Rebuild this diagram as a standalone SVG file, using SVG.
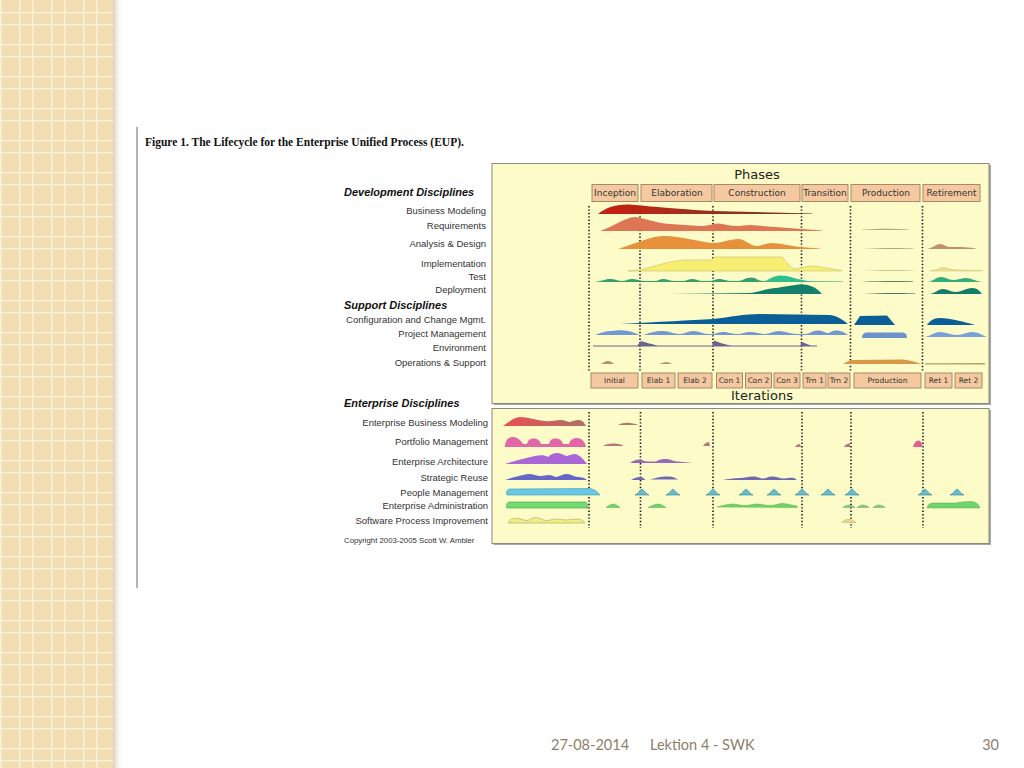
<svg xmlns="http://www.w3.org/2000/svg" width="1024" height="768" viewBox="0 0 1024 768">
<defs>
<pattern id="grid" patternUnits="userSpaceOnUse" x="19" y="12" width="32" height="32">
<rect width="32" height="32" fill="#f2deb2"/>
<rect x="0" y="0" width="1.6" height="32" fill="#faf0d6"/>
<rect x="13" y="0" width="1.6" height="32" fill="#faf0d6"/>
<rect x="0" y="0" width="32" height="1.6" fill="#faf0d6"/>
<rect x="0" y="12" width="32" height="1.6" fill="#faf0d6"/>
</pattern>
<linearGradient id="shadowL" x1="0" y1="0" x2="1" y2="0">
<stop offset="0" stop-color="#c8b89a" stop-opacity="0.7"/>
<stop offset="1" stop-color="#ffffff" stop-opacity="0"/>
</linearGradient>
<linearGradient id="gBM" x1="0" y1="0" x2="1" y2="0">
<stop offset="0" stop-color="#c81e10"/>
<stop offset="0.3" stop-color="#b02a18"/>
<stop offset="1" stop-color="#6a3a28"/>
</linearGradient>
<linearGradient id="gEBM" x1="0" y1="0" x2="1" y2="0">
<stop offset="0" stop-color="#e85050"/>
<stop offset="1" stop-color="#b07068"/>
</linearGradient>
<path id="tent" d="M-7,0 C-4,-1 -2,-5 0,-6 C2,-5 4,-1 7,0 Z"/>
<path id="minihump" d="M-6,0 C-4,-1.5 -2,-2.5 0,-2.5 C2,-2.5 4,-1.5 6,0 Z"/>
</defs>
<style>
.lbl{font-family:"Liberation Sans",Arial,sans-serif;font-size:9.5px;fill:#333;text-anchor:end}
.hdr{font-family:"Liberation Sans",Arial,sans-serif;font-size:11px;font-weight:bold;font-style:italic;fill:#111}
.ph{fill:#f5c9a0;stroke:#a88866;stroke-width:1}
.pht{font-family:"DejaVu Sans",Verdana,sans-serif;font-size:9px;fill:#333;text-anchor:middle}
.itt{font-family:"DejaVu Sans",Verdana,sans-serif;font-size:7.5px;fill:#333;text-anchor:middle}
.big{font-family:"DejaVu Sans",Verdana,sans-serif;font-size:13px;fill:#222;text-anchor:middle}
.panel{fill:#fdfcc8;stroke:#8a8a80;stroke-width:1}
.shadow{fill:#a8a8a0}
.dot{stroke:#1a1a1a;stroke-width:1.6;stroke-dasharray:1.4 2;fill:none}
.foot{font-family:Lato,"Liberation Sans",sans-serif;font-size:14.5px;fill:#8c7f6c}
</style>

<!-- left decorative strip -->
<rect x="0" y="0" width="113" height="768" fill="url(#grid)"/>
<rect x="113" y="0" width="10" height="768" fill="url(#shadowL)"/>

<!-- figure frame line & title -->
<line x1="137" y1="127" x2="137" y2="588" stroke="#9a9a9a" stroke-width="1.5"/>
<text x="145" y="146" font-family="'Liberation Serif','Times New Roman',serif" font-size="11.5" font-weight="bold" fill="#111">Figure 1. The Lifecycle for the Enterprise Unified Process (EUP).</text>

<!-- panels -->
<g id="panel-top">
<rect class="shadow" x="493.5" y="165" width="497.5" height="240"/>
<rect class="panel" x="492" y="163.5" width="497" height="240"/>
<text class="big" x="757" y="178.5">Phases</text>
<text class="big" x="762" y="400">Iterations</text>
</g>
<g id="panel-enterprise">
<rect class="shadow" x="493.5" y="410" width="497.5" height="135"/>
<rect class="panel" x="492" y="408.5" width="497" height="135"/>
</g>

<!-- phase boxes -->
<g id="phases">
<g id="ph-inception"><rect class="ph" x="592" y="184.5" width="46" height="17"/><text class="pht" x="615" y="196.3">Inception</text></g>
<g id="ph-elaboration"><rect class="ph" x="641" y="184.5" width="71" height="17"/><text class="pht" x="677" y="195.5">Elaboration</text></g>
<g id="ph-construction"><rect class="ph" x="714" y="184.5" width="86" height="17"/><text class="pht" x="757" y="196.3">Construction</text></g>
<g id="ph-transition"><rect class="ph" x="802" y="184.5" width="46" height="17"/><text class="pht" x="825" y="196.3">Transition</text></g>
<g id="ph-production"><rect class="ph" x="851" y="184.5" width="69" height="17"/><text class="pht" x="886" y="196.3">Production</text></g>
<g id="ph-retirement"><rect class="ph" x="923" y="184.5" width="57" height="17"/><text class="pht" x="951.5" y="196.3">Retirement</text></g>
</g>

<!-- iteration boxes -->
<g id="iterations">
<g id="it-initial"><rect class="ph" x="591" y="373" width="47" height="15"/><text class="itt" x="614.5" y="383">Initial</text></g>
<g id="it-elab1"><rect class="ph" x="642" y="373" width="33" height="15"/><text class="itt" x="658.5" y="383">Elab 1</text></g>
<g id="it-elab2"><rect class="ph" x="678" y="373" width="34" height="15"/><text class="itt" x="695" y="383">Elab 2</text></g>
<g id="it-con1"><rect class="ph" x="716.5" y="373" width="26" height="15"/><text class="itt" x="729.5" y="383">Con 1</text></g>
<g id="it-con2"><rect class="ph" x="745.5" y="373" width="26" height="15"/><text class="itt" x="758.5" y="383">Con 2</text></g>
<g id="it-con3"><rect class="ph" x="774" y="373" width="26" height="15"/><text class="itt" x="787" y="383">Con 3</text></g>
<g id="it-trn1"><rect class="ph" x="803" y="373" width="23" height="15"/><text class="itt" x="814.5" y="383">Trn 1</text></g>
<g id="it-trn2"><rect class="ph" x="828" y="373" width="22" height="15"/><text class="itt" x="839" y="383">Trn 2</text></g>
<g id="it-production"><rect class="ph" x="854" y="373" width="67" height="15"/><text class="itt" x="887.5" y="383">Production</text></g>
<g id="it-ret1"><rect class="ph" x="925" y="373" width="27" height="15"/><text class="itt" x="938.5" y="383">Ret 1</text></g>
<g id="it-ret2"><rect class="ph" x="955" y="373" width="27" height="15"/><text class="itt" x="968.5" y="383">Ret 2</text></g>
</g>

<!-- labels -->
<g id="labels-dev">
<text class="hdr" x="344" y="196">Development Disciplines</text>
<text class="lbl" x="486" y="213.5">Business Modeling</text>
<text class="lbl" x="486" y="228.5">Requirements</text>
<text class="lbl" x="486" y="246.5">Analysis &amp; Design</text>
<text class="lbl" x="486" y="266.5">Implementation</text>
<text class="lbl" x="486" y="279.5">Test</text>
<text class="lbl" x="486" y="292.5">Deployment</text>
<text class="hdr" x="344" y="309">Support Disciplines</text>
<text class="lbl" x="486" y="322.5">Configuration and Change Mgmt.</text>
<text class="lbl" x="486" y="336.5">Project Management</text>
<text class="lbl" x="486" y="350.5">Environment</text>
<text class="lbl" x="486" y="365.5">Operations &amp; Support</text>
</g>
<g id="labels-ent">
<text class="hdr" x="344" y="407">Enterprise Disciplines</text>
<text class="lbl" x="488" y="425.5">Enterprise Business Modeling</text>
<text class="lbl" x="488" y="444.5">Portfolio Management</text>
<text class="lbl" x="488" y="464.5">Enterprise Architecture</text>
<text class="lbl" x="488" y="480.5">Strategic Reuse</text>
<text class="lbl" x="488" y="495.5">People Management</text>
<text class="lbl" x="488" y="508.5">Enterprise Administration</text>
<text class="lbl" x="488" y="523.5">Software Process Improvement</text>
<text x="344" y="543" font-family="'Liberation Sans',Arial,sans-serif" font-size="7.8" fill="#333">Copyright 2003-2005 Scott W. Ambler</text>
</g>

<!-- phase boundaries (connectors group) -->
<g id="connectors">
<line class="dot" x1="589" y1="206" x2="589" y2="371"/>
<line class="dot" x1="640" y1="206" x2="640" y2="371"/>
<line class="dot" x1="713" y1="206" x2="713" y2="371"/>
<line class="dot" x1="801.5" y1="206" x2="801.5" y2="371"/>
<line class="dot" x1="850.5" y1="206" x2="850.5" y2="371"/>
<line class="dot" x1="922.5" y1="206" x2="922.5" y2="371"/>
<line class="dot" x1="589" y1="412" x2="589" y2="528"/>
<line class="dot" x1="640.5" y1="412" x2="640.5" y2="528"/>
<line class="dot" x1="713" y1="412" x2="713" y2="528"/>
<line class="dot" x1="802" y1="412" x2="802" y2="528"/>
<line class="dot" x1="851" y1="412" x2="851" y2="528"/>
<line class="dot" x1="923" y1="412" x2="923" y2="528"/>
</g>

<!-- development workload curves -->
<g id="curves-dev">
<path id="c-bm" d="M598,214 C606,208 614,204.5 627,204.5 C640,205 660,208 713,211 L812,213.6 L812,214 Z" fill="url(#gBM)"/>
<path id="c-req" d="M600,231 C615,226 625,217.5 635,217 C645,218 655,223 670,224 L700,226 C708,226 712,224 718,223.5 C724,224 730,226 738,226 C743,226 745,225 750,225 L822,230.4 L822,231 Z" fill="#dd7654"/>
<path d="M862,229.6 C880,228.6 895,228.6 910,229.4 L910,229.8 L862,229.8 Z" fill="#a08868"/>
<path id="c-ad" d="M618,249 C635,244 650,236 665,236 C680,236 700,242 713,243 C722,243 730,239 738,239 C745,239 750,246 757,246 C762,246 765,243 772,243 C780,243 790,246 800,247 L820,248.5 L820,249 Z" fill="#e8913c"/>
<path d="M862,249 C880,248 895,248 913,248.6 L913,249 Z" fill="#a08868"/>
<path d="M927,249 C933,248 936,244 940,244 C944,244 946,247 950,247 C960,247 970,247 977,249 Z" fill="#c0906a"/>
<path id="c-impl" d="M628,271 L642,269.5 C655,266 670,261 685,260 L712,260 L714,257 L782,257 C787,262 790,268 795,269 C800,268 808,266 812,266 C818,266 825,268 842,270.5 L842,271 Z" fill="#f7ef72" stroke="#c8c070" stroke-width="0.6"/>
<path d="M862,270.8 C880,269.8 895,269.8 913,270.4 L913,270.8 Z" fill="#b8b070"/>
<path d="M930,271 C937,270 940,267.5 943,267.5 C947,267.5 950,270 958,270 L982,270.5 L982,271 Z" fill="#ecdf90" stroke="#c8c070" stroke-width="0.5"/>
<path id="c-test" d="M595,282 C603,281 605,279 610,279 C615,279 618,281 622,281 C626,281 628,279 632,279 C636,279 640,281 645,281 L655,281 C658,281 660,279 663,279 C667,279 670,281 675,281 L683,281 C686,281 689,279 692,279 C696,279 699,281 702,281 L710,281 C713,281 716,279 719,279 C723,279 726,281 732,281 L738,281 C742,281 746,277.5 751,277.5 C756,277.5 758,281 763,281 L843,281.5 L843,282 Z" fill="#35a06c"/>
<path d="M763,281.5 C768,281 772,276 780,275.5 C790,275.5 795,279 803,280 L812,282 L763,282 Z" fill="#2fbf8c"/>
<path d="M862,282 C880,281.2 895,281.2 913,281.6 L913,282 Z" fill="#2a5a40"/>
<path d="M928,282 C934,281 936,277 941,277 C946,277 948,280 953,280 C958,280 962,278 966,278 C971,278 975,281 982,282 Z" fill="#2fae7a"/>
<path id="c-dep" d="M668,294 L750,293 C758,292 765,289 775,288 C785,287 795,284 803,284.5 C812,285 818,289 822,294 Z" fill="#13806e"/>
<path d="M862,293.8 C880,292.8 895,292.8 915,293.3 L915,293.8 Z" fill="#1a4a40"/>
<path d="M930,294 C936,293 938,289 943,289 C948,289 950,292 955,292 C962,292 966,288 972,288 C977,288 980,291 982,294 Z" fill="#137c68"/>
<path id="c-ccm" d="M620,324 C660,322 690,320 713,319 C730,317 745,314 760,314 L830,315 C838,316 843,320 848,324 Z" fill="#0b5e96"/>
<path d="M854,325 L860,316 L887,315.5 L895,325 Z" fill="#0b5e96"/>
<path d="M927,325 C930,321 933,318 940,318 C950,318 965,322 975,325 Z" fill="#0b5e96"/>
<path id="c-pm" d="M595,335 C600,333 605,331 612,331 C618,330 622,330 628,331 C634,332 636,334 640,335 Z M643,335 C650,333 655,331 663,331 C670,331 672,334 680,334 C685,334 688,331 693,331 C700,331 702,334 708,334 L712,334 C716,334 719,332 723,332 C728,332 731,334 738,334 C742,334 745,332 750,332 C756,332 760,334 765,334 C770,334 773,331 779,331 C785,331 790,334 797,334 L805,334 C810,334 812,330.5 818,330.5 C823,330.5 825,333 828,333 C830,333 832,330.5 836,330.5 C842,330.5 845,333 848,335 Z" fill="#7198d4"/>
<path d="M862,338 C862,334 864,333 866,332.5 L903,332.5 C906,333 907,335 907,338 Z" fill="#6e92cc"/>
<path d="M925,337 C932,335 935,332 940,332 C946,332 950,335 957,335 C963,335 967,332 972,332 C978,332 982,335 987,337 Z" fill="#7aa0da"/>
<path id="c-env" d="M593,345.6 L817,345.6 L817,346.4 L593,346.4 Z M637,346 L641,341 C645,342 650,344 660,346 Z M712,346 L714,340.5 C718,342 725,345 735,346 Z M800,346 L802,342 L812,346 Z" fill="#6a6290"/>
<path id="c-ops" d="M601,364 C604,362 606,361 608,361 C611,361 613,363 614,364 Z M659,364 C662,363 664,362 666,362 C669,362 670,363 672,364 Z" fill="#b8926a"/>
<path d="M843,364 C846,362 848,361 852,360 L903,359.5 C910,360 915,362 922,364 Z" fill="#d99848"/>
<path d="M925,363.2 L985,363 L985,364.4 L925,364.4 Z" fill="#b8a060"/>
</g>

<!-- enterprise curves -->
<g id="curves-ent">
<path id="e-bm" d="M503,426 C508,423 512,418 520,417 C528,417 535,420 545,421 C552,422 555,420 560,420 C565,420 567,422 570,422 C573,421 575,420 578,420 C582,420 584,422 586,426 Z" fill="url(#gEBM)"/>
<path d="M618,425 C622,423 626,422.5 630,423 C634,423.5 636,424 638,425 Z" fill="#b07868"/>
<path id="e-pfm" d="M505,447 C505,441 508,437 513,437 C518,437 521,441 523,444 L527,444 C528,440 530,438.5 534,438.5 C538,438.5 540,441 541,444 L549,444 C550,440 552,438.5 556,438.5 C560,438.5 562,441 563,444 L569,444 C570,440 573,438 577,438 C582,438 585,442 586,447 Z" fill="#e068a8"/>
<path d="M603,446 C606,444 610,443.5 614,443.5 C619,443.5 621,444.5 624,446 Z M703,446 C705,443 707,442 709,442 L710,446 Z M795,447 C796,445 798,444 800,444 L801,447 Z M844,447 C845,445 847,443.5 850,443.5 L850,447 Z" fill="#b07880"/>
<path d="M913,447 C914,443 916,440.5 919,440.5 C921,441 922,444 923,447 Z" fill="#e0608e"/>
<path id="e-ea" d="M505,464 C515,461 525,458 535,456 C540,455 545,455 548,457 C550,455 553,453 557,453 C562,453 564,456 567,456 C570,455 572,454 575,454 C580,455 584,460 587,464 Z" fill="#a966d6"/>
<path d="M630,463 C633,461 636,459.5 639,459.5 C642,459.5 644,461.5 648,461.5 L656,461.5 C659,459.5 662,459 666,459 C671,459 673,461.5 678,461.5 L693,463 Z" fill="#9a68b8"/>
<path id="e-sr" d="M505,480 C512,478 520,475 528,474 C533,474 537,476 541,476 C544,476 546,475 549,475 C552,475 554,477 557,477 C560,476 563,474 567,474 C571,474 574,477 578,477 C582,477 585,478 587,480 Z" fill="#6466c8"/>
<path d="M631,480 C634,478 637,477 640,477 C643,477 645,479 645,480 Z M650,479.5 C655,478 660,476.5 668,476.5 C673,476.5 676,478 678,479.5 Z M723,480 C728,479 734,478 740,478 C745,478 748,476.5 753,476.5 C758,476.5 760,478.5 763,478.5 C766,478.5 768,476.5 772,476.5 C777,476.5 780,478.5 784,478.5 C788,478.5 790,477.5 794,478 L797,480 Z" fill="#7068b0"/>
<path id="e-pplm" d="M507,495 C506,492 507,489 510,489 L589,488.5 C594,489 597,491 600,495 Z" fill="#68c8e6" stroke="#3a9ab4" stroke-width="0.6"/>
<g fill="#66bcd0" stroke="#2e7f98" stroke-width="0.6">
<use href="#tent" x="642" y="495"/>
<use href="#tent" x="673" y="495"/>
<use href="#tent" x="713" y="495"/>
<use href="#tent" x="746" y="495"/>
<use href="#tent" x="774" y="495"/>
<use href="#tent" x="802" y="495"/>
<use href="#tent" x="828" y="495"/>
<use href="#tent" x="852" y="495"/>
<use href="#tent" x="925" y="495"/>
<use href="#tent" x="957" y="495"/>
</g>
<path id="e-adm" d="M507,508 C506,505 507,502 510,502 L585,502 C587,502 588,505 588,508 Z" fill="#72dc72" stroke="#3c9c3c" stroke-width="0.6"/>
<path d="M606,507.5 C609,505.5 611,504 613,504 C615,504 617,505.5 620,507.5 Z M648,507.5 C652,506 655,504 658,504 C661,504 663,506 666,507.5 Z M717,507 C722,506 727,504 733,504 C737,504 740,505.5 745,505.5 C750,505.5 752,504 757,504 C762,504 765,505.5 770,505.5 C775,505.5 778,503.5 782,503.5 C787,503.5 790,505 797,506 L797,507.5 Z M927,508 C928,504 930,503 935,503 L955,503 C960,502 965,501.5 970,501.5 C975,501.5 978,503 980,508 Z" fill="#70d46e" stroke="#3c9c3c" stroke-width="0.4"/>
<g fill="#8cc890" stroke="#4a8a50" stroke-width="0.4">
<use href="#minihump" x="849" y="507.5"/>
<use href="#minihump" x="863" y="507.5"/>
<use href="#minihump" x="879" y="507.5"/>
</g>
<path id="e-spi" d="M508,523 C510,519 514,518 518,518.5 C522,519 524,520.5 527,520.5 C530,520.5 532,517.5 536,517.5 C540,517.5 542,520.5 546,520.5 C550,520.5 553,519 557,519 C561,519 563,520 566,520 C570,520 573,519 577,519 C581,519 583,520.5 585,523 Z" fill="#f0ee8a" stroke="#aaa650" stroke-width="0.6"/>
<path d="M842,522.5 C844,520 846,519.5 849,519.5 C852,519.5 854,520.5 856,522.5 Z" fill="#e8d890" stroke="#a89858" stroke-width="0.4"/>
</g>

<!-- footer -->
<g id="footer">
<text class="foot" x="551" y="750">27-08-2014</text>
<text class="foot" x="650" y="750">Lektion 4 - SWK</text>
<text class="foot" x="999" y="750" text-anchor="end">30</text>
</g>
</svg>
